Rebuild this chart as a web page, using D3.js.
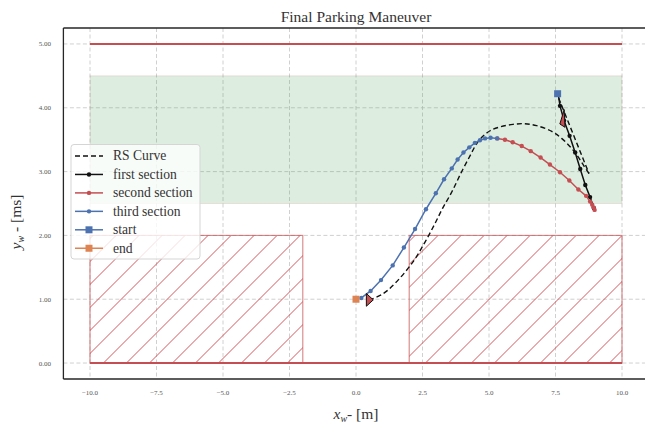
<!DOCTYPE html>
<html>
<head>
<meta charset="utf-8">
<script src="https://cdn.jsdelivr.net/npm/d3@7"></script>
<style>
  body { margin: 0; background: #fff; }
  text { font-family: "Liberation Serif", "DejaVu Serif", serif; }
</style>
</head>
<body>
<svg id="chart" width="645" height="426"></svg>
<script>
// ---- data ----
const xTicks = [-10, -7.5, -5, -2.5, 0, 2.5, 5, 7.5, 10];
const yTicks = [0, 1, 2, 3, 4, 5];

// road boundaries (upper curb and lower curb)
const boundaryLines = [
  [[-10, 5], [10, 5]],
  [[-10, 0], [10, 0]]
];

// target (free) lane
const targetZone = { x0: -10, x1: 10, y0: 2.5, y1: 4.5 };

// parked cars / obstacles
const obstacles = [
  { x0: -10, x1: -2, y0: 0, y1: 2 },
  { x0: 2, x1: 10, y0: 0, y1: 2 }
];

// Reeds-Shepp reference path: straight reverse leg, then forward arc
const rsReverse = [[7.62, 4.15], [8.76, 2.97]];
const rsForward = [
  [8.76, 2.97], [8.55, 3.10], [8.30, 3.26], [8.05, 3.39], [7.73, 3.52],
  [7.36, 3.63], [6.79, 3.72], [6.35, 3.75], [5.90, 3.74], [5.41, 3.70],
  [5.04, 3.64], [4.79, 3.56], [4.54, 3.44], [4.29, 3.25], [3.95, 2.98],
  [3.60, 2.68], [3.25, 2.42], [2.95, 2.17], [2.60, 1.90], [2.15, 1.59],
  [1.47, 1.25], [1.03, 1.09], [0.53, 0.99]
];

// executed trajectory, split into sections
const firstSection = [
  [7.60, 4.22], [7.67, 4.03], [7.82, 3.80], [8.03, 3.56], [8.24, 3.30],
  [8.43, 3.04], [8.62, 2.79], [8.80, 2.60], [8.94, 2.43]
];
const secondSection = [
  [8.97, 2.40], [8.93, 2.44], [8.88, 2.48], [8.80, 2.53], [8.65, 2.62],
  [8.36, 2.72], [8.02, 2.86], [7.67, 2.99], [7.29, 3.11], [6.94, 3.22],
  [6.57, 3.32], [6.23, 3.40], [5.89, 3.46], [5.60, 3.50], [5.31, 3.52]
];
const thirdSection = [
  [5.31, 3.52], [5.06, 3.53], [4.85, 3.52], [4.66, 3.49], [4.47, 3.45],
  [4.26, 3.38], [4.04, 3.30], [3.82, 3.19], [3.60, 3.05], [3.31, 2.88],
  [3.00, 2.66], [2.63, 2.41], [2.22, 2.10], [1.80, 1.81], [1.38, 1.53],
  [0.94, 1.30], [0.55, 1.13], [0.20, 1.02]
];

const startPoint = [7.58, 4.22];
const endPoint = [0.0, 1.0];

// vehicle poses drawn as arrow heads (heading in degrees)
const carPoses = [
  { x: 0.39, y: 0.99, heading: 0 },
  { x: 7.76, y: 3.72, heading: 75 }
];

const legendLabels = ["RS Curve", "first section", "second section", "third section", "start", "end"];

// ---- styling ----
const C = {
  red: "#c44e52", blue: "#4c72b0", orange: "#dd8452", green: "#55a868", black: "#111"
};

const svg = d3.select("#chart");
const W = 645, H = 426;

const x = d3.scaleLinear().domain([-11, 11]).range([63.4, 648.6]);
const y = d3.scaleLinear().domain([-0.25, 5.25]).range([379, 28]);

const [px0, px1] = x.range();
const [py0, py1] = [y.range()[1], y.range()[0]];

const defs = svg.append("defs");
defs.append("clipPath").attr("id", "plotClip")
  .append("rect").attr("x", px0).attr("y", py0).attr("width", px1 - px0).attr("height", py1 - py0);

// title
svg.append("text").attr("x", 356).attr("y", 22).attr("text-anchor", "middle")
  .attr("font-size", 15.5).attr("fill", "#333").text("Final Parking Maneuver");

const plot = svg.append("g").attr("clip-path", "url(#plotClip)");

// grid
const grid = plot.append("g").attr("stroke", "#c4c4c4").attr("stroke-width", 0.8)
  .attr("stroke-dasharray", "4,2.5");
grid.selectAll("line.gx").data(xTicks).join("line")
  .attr("x1", d => x(d)).attr("x2", d => x(d)).attr("y1", py0).attr("y2", py1);
grid.selectAll("line.gy").data(yTicks).join("line")
  .attr("y1", d => y(d)).attr("y2", d => y(d)).attr("x1", px0).attr("x2", px1);

// target lane
plot.append("rect")
  .attr("x", x(targetZone.x0)).attr("y", y(targetZone.y1))
  .attr("width", x(targetZone.x1) - x(targetZone.x0))
  .attr("height", y(targetZone.y0) - y(targetZone.y1))
  .attr("fill", C.green).attr("fill-opacity", 0.2)
  .attr("stroke", C.red).attr("stroke-opacity", 0.15).attr("stroke-width", 1);

// obstacles: '/' hatching clipped to each box, then the outline
const hatchStep = 23;
const hatchBase = 466.5;
obstacles.forEach((o, i) => {
  const rx0 = x(o.x0), rx1 = x(o.x1), ry0 = y(o.y1), ry1 = y(o.y0);
  defs.append("clipPath").attr("id", "obsClip" + i)
    .append("rect").attr("x", rx0).attr("y", ry0).attr("width", rx1 - rx0).attr("height", ry1 - ry0);
  const g = plot.append("g").attr("clip-path", `url(#obsClip${i})`);
  // lines satisfy px + py = c, spaced hatchStep apart
  const cMin = rx0 + ry0, cMax = rx1 + ry1;
  const kStart = Math.floor((cMin - hatchBase) / hatchStep);
  const kEnd = Math.ceil((cMax - hatchBase) / hatchStep);
  g.selectAll("line").data(d3.range(kStart, kEnd + 1)).join("line")
    .attr("x1", k => hatchBase + k * hatchStep - ry1).attr("y1", ry1)
    .attr("x2", k => hatchBase + k * hatchStep - ry0).attr("y2", ry0)
    .attr("stroke", "#d0454b").attr("stroke-width", 0.9);
  plot.append("rect").attr("x", rx0).attr("y", ry0).attr("width", rx1 - rx0).attr("height", ry1 - ry0)
    .attr("fill", "none").attr("stroke", C.red).attr("stroke-opacity", 0.7).attr("stroke-width", 1.1);
});

// road boundaries
const lineGen = d3.line().x(d => x(d[0])).y(d => y(d[1]));
plot.selectAll("path.bound").data(boundaryLines).join("path")
  .attr("d", lineGen).attr("stroke", C.red).attr("stroke-width", 2).attr("fill", "none");

// RS curve
const smooth = d3.line().x(d => x(d[0])).y(d => y(d[1])).curve(d3.curveCatmullRom.alpha(0.5));
[rsReverse, rsForward].forEach(seg => {
  plot.append("path").attr("d", smooth(seg)).attr("fill", "none")
    .attr("stroke", C.black).attr("stroke-width", 1.4).attr("stroke-dasharray", "5,3");
});

// trajectory sections
function drawSection(data, color) {
  plot.append("path").attr("d", lineGen(data)).attr("fill", "none")
    .attr("stroke", color).attr("stroke-width", 1.5);
  plot.append("g").selectAll("circle").data(data).join("circle")
    .attr("cx", d => x(d[0])).attr("cy", d => y(d[1])).attr("r", 2.2).attr("fill", color);
}
drawSection(firstSection, C.black);
drawSection(secondSection, C.red);
drawSection(thirdSection, C.blue);

// start / end markers
plot.append("rect").attr("x", x(startPoint[0]) - 3.5).attr("y", y(startPoint[1]) - 3.5)
  .attr("width", 7).attr("height", 7).attr("fill", C.blue);
plot.append("rect").attr("x", x(endPoint[0]) - 3.5).attr("y", y(endPoint[1]) - 3.5)
  .attr("width", 7).attr("height", 7).attr("fill", C.orange);

// vehicle arrow heads, built in data units
const carLen = 0.26, carHalfW = 0.1;
carPoses.forEach(p => {
  const t = p.heading * Math.PI / 180;
  const dx = Math.cos(t), dy = Math.sin(t);
  const tip = [p.x + carLen * dx, p.y + carLen * dy];
  const a = [p.x - carHalfW * dy, p.y + carHalfW * dx];
  const b = [p.x + carHalfW * dy, p.y - carHalfW * dx];
  plot.append("path").attr("d", lineGen([tip, a, b, tip]) + "Z")
    .attr("fill", C.red).attr("stroke", C.black).attr("stroke-width", 1)
    .attr("stroke-linejoin", "miter");
});

// spines
svg.append("line").attr("x1", px0).attr("x2", px0).attr("y1", py0).attr("y2", py1)
  .attr("stroke", "#262626").attr("stroke-width", 1.3);
svg.append("line").attr("x1", px0).attr("x2", W).attr("y1", py1).attr("y2", py1)
  .attr("stroke", "#262626").attr("stroke-width", 1.3);
svg.append("line").attr("x1", px0).attr("x2", W).attr("y1", py0).attr("y2", py0)
  .attr("stroke", "#262626").attr("stroke-width", 1.3);

// tick labels
svg.append("g").selectAll("text").data(xTicks).join("text")
  .attr("x", d => x(d)).attr("y", 395).attr("text-anchor", "middle")
  .attr("font-size", 7).attr("fill", "#555")
  .text(d => (d < 0 ? "\u2212" : "") + Math.abs(d).toFixed(1));
svg.append("g").selectAll("text").data(yTicks).join("text")
  .attr("x", 51).attr("y", d => y(d) + 2.5).attr("text-anchor", "end")
  .attr("font-size", 7).attr("fill", "#555")
  .text(d => d.toFixed(2));

// axis labels
const xl = svg.append("text").attr("x", 356).attr("y", 419).attr("text-anchor", "middle")
  .attr("font-size", 15.5).attr("fill", "#333");
xl.append("tspan").attr("font-style", "italic").text("x");
xl.append("tspan").attr("font-style", "italic").attr("font-size", 10).attr("dy", 3).text("w");
xl.append("tspan").attr("dy", -3).text("- [m]");

const yl = svg.append("text").attr("transform", "translate(21,222) rotate(-90)")
  .attr("text-anchor", "middle").attr("font-size", 15.5).attr("fill", "#333");
yl.append("tspan").attr("font-style", "italic").text("y");
yl.append("tspan").attr("font-style", "italic").attr("font-size", 10).attr("dy", 3).text("w");
yl.append("tspan").attr("dy", -3).text(" - [ms]");

// legend
const legend = svg.append("g");
legend.append("rect").attr("x", 71).attr("y", 144.5).attr("width", 129).attr("height", 114.5)
  .attr("rx", 3).attr("fill", "#fff").attr("fill-opacity", 0.8)
  .attr("stroke", "#d5d5d5").attr("stroke-width", 1);
const legendStyle = [
  { color: C.black, dash: "5,3", marker: null },
  { color: C.black, dash: null, marker: "dot" },
  { color: C.red, dash: null, marker: "dot" },
  { color: C.blue, dash: null, marker: "dot" },
  { color: C.blue, dash: null, marker: "square" },
  { color: C.orange, dash: null, marker: "square" }
];
legendLabels.forEach((label, i) => {
  const cy = 156 + i * 18.45;
  const s = legendStyle[i];
  legend.append("line").attr("x1", 75).attr("x2", 103).attr("y1", cy).attr("y2", cy)
    .attr("stroke", s.color).attr("stroke-width", 1.5)
    .attr("stroke-dasharray", s.dash);
  if (s.marker === "dot") {
    legend.append("circle").attr("cx", 89).attr("cy", cy).attr("r", 2.2).attr("fill", s.color);
  } else if (s.marker === "square") {
    legend.append("rect").attr("x", 85.5).attr("y", cy - 3.5).attr("width", 7).attr("height", 7)
      .attr("fill", s.color);
  }
  legend.append("text").attr("x", 113).attr("y", cy + 4.3).attr("font-size", 13.6)
    .attr("fill", "#333").text(label);
});
</script>
</body>
</html>
